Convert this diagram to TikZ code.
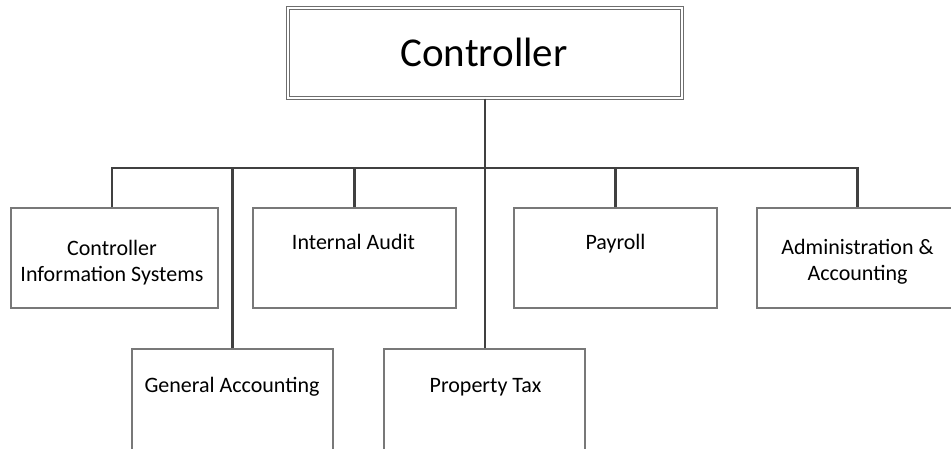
\documentclass[tikz,border=0pt]{standalone}
\usepackage{fontspec}
\setmainfont{Carlito}
\definecolor{boxgray}{RGB}{120,120,120}
\definecolor{headgray}{RGB}{110,110,110}
\definecolor{linegray}{RGB}{64,64,64}
\begin{document}
\begin{tikzpicture}[x=1pt,y=-1pt,
  boxline/.style={draw=boxgray, line width=1.2pt},
  unitbox/.style={boxline, rectangle, inner sep=0pt, minimum height=100pt},
  lowbox/.style={boxline, rectangle, inner sep=0pt, minimum width=201pt, minimum height=120pt},
  headbox/.style={draw=headgray, line width=1.1pt, double=white, double distance=2.6pt,
    rectangle, inner sep=0pt, minimum width=394pt, minimum height=90pt},
  conn/.style={draw=linegray, line width=2.4pt},
  unittext/.style={anchor=base, align=center, inner sep=0pt, font=\fontsize{22}{26}\selectfont},
  headtext/.style={anchor=base, inner sep=0pt, font=\fontsize{41}{48}\selectfont}]
\useasboundingbox (0,0) rectangle (951,449);
\clip (0,0) rectangle (951,449);
\fill[white] (0,0) rectangle (951,449);

% head of the department
\node[headbox] (ctrl) at (485,53) {};
\node[headtext] (ctrl-t) at (484,67) {Controller};

% units on the upper row (the last one runs past the right margin)
\node[unitbox, minimum width=207pt] (cis) at (114.5,258) {};
\node[unitbox, minimum width=203pt] (ia) at (354.5,258) {};
\node[unitbox, minimum width=203pt] (pay) at (615.5,258) {};
\node[unitbox, minimum width=240pt] (adm) at (877,258) {};

% units on the lower row
\node[lowbox] (ga) at (232.5,409) {};
\node[lowbox] (pt) at (484.5,409) {};

% unit names (two-line names sit on the baseline of their last line)
\node[unittext] (cis-t) at (112,282) {Controller\\Information Systems};
\node[unittext] (ia-t) at (353.5,250) {Internal Audit};
\node[unittext] (pay-t) at (615.5,250) {Payroll};
\node[unittext] (adm-t) at (857.5,281) {Administration \&\\Accounting};
\node[unittext] (ga-t) at (232,392) {General Accounting};
\node[unittext] (pt-t) at (485.5,392) {Property Tax};

% reporting lines
\coordinate (bus) at (485,168);
\draw[conn] ([xshift=-2.5pt]cis.north) |- (bus) -| (adm.north -| adm-t.center);
\draw[conn] (ctrl.south) -- (ctrl.south |- pt.north);
\draw[conn] (ga.north) -- (ga.north |- bus);
\draw[conn] (ia.north) -- (ia.north |- bus);
\draw[conn] (pay.north) -- (pay.north |- bus);
\end{tikzpicture}
\end{document}
